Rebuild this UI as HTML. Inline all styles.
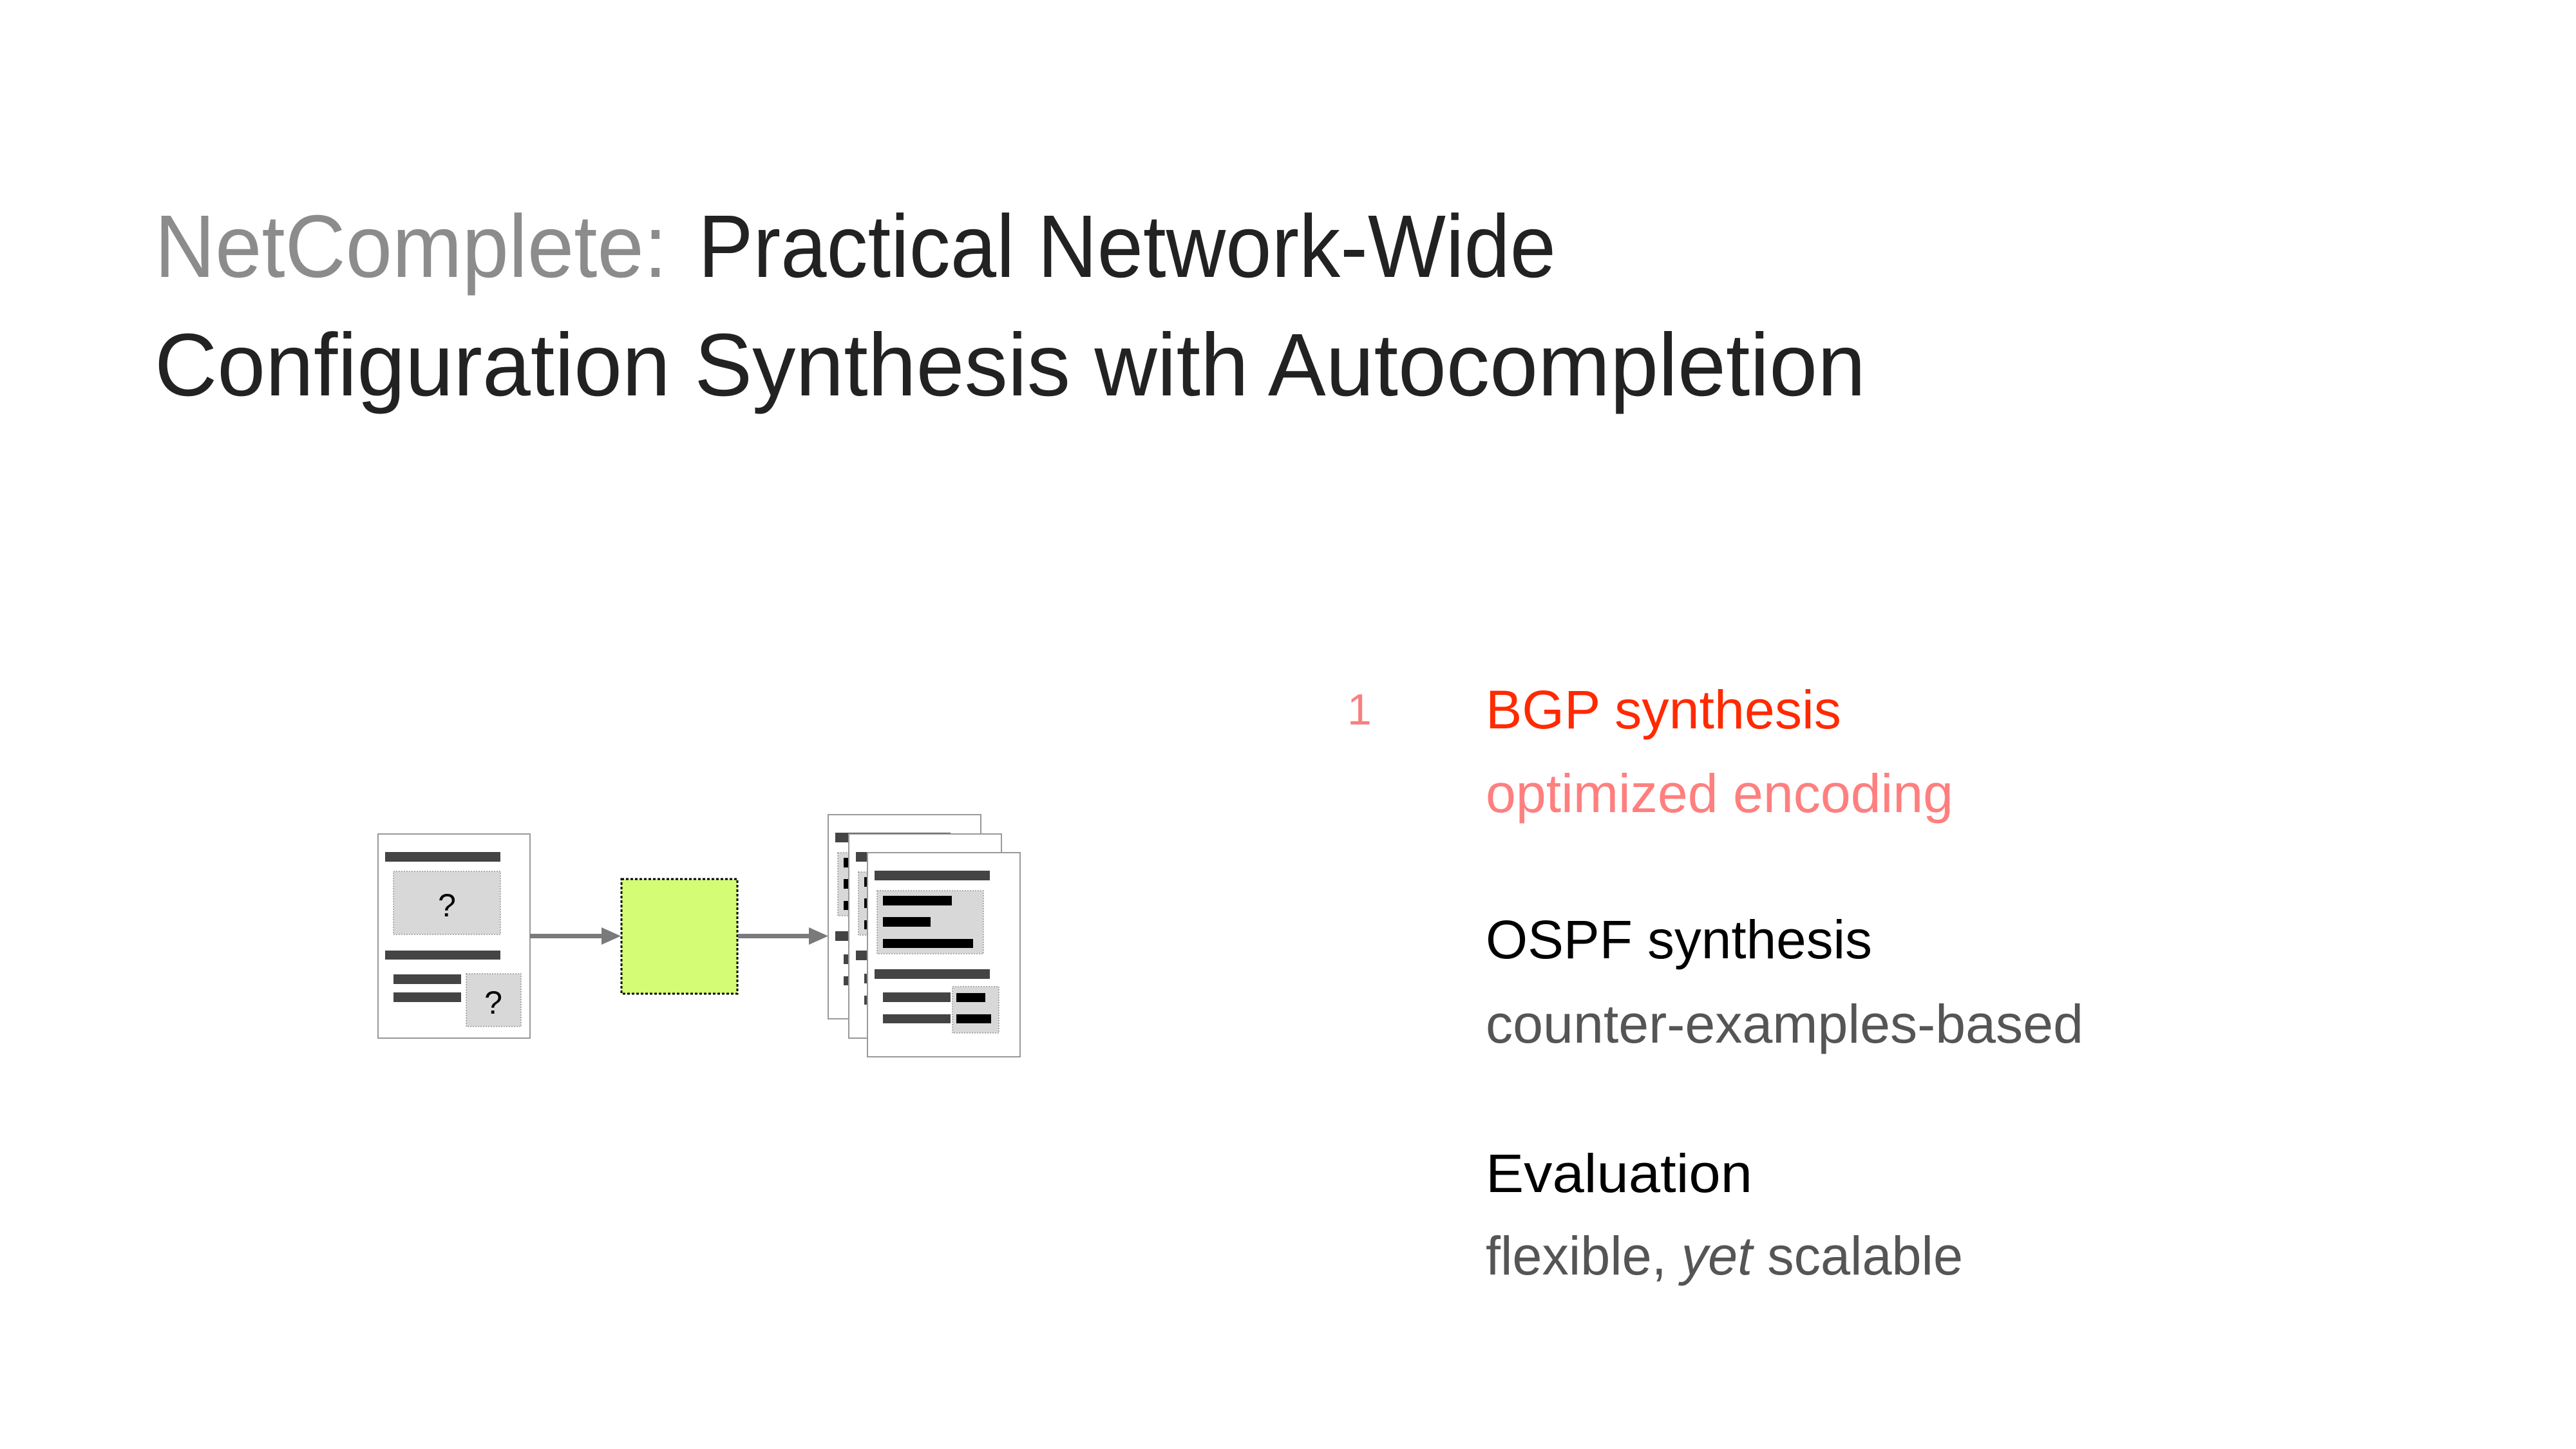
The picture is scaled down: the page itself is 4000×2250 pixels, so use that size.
<!DOCTYPE html>
<html><head><meta charset="utf-8"><style>
html,body{margin:0;padding:0;background:#fff;}
svg{display:block;}
text{font-family:"Liberation Sans","DejaVu Sans",sans-serif;}
</style></head><body>
<svg width="4000" height="2250" viewBox="0 0 4000 2250" xmlns="http://www.w3.org/2000/svg">
<rect width="4000" height="2250" fill="#fff"/>
<!-- Title -->
<text x="240" y="430" font-size="138" fill="#8c8c8c" textLength="796" lengthAdjust="spacingAndGlyphs">NetComplete:</text>
<text x="1084" y="430" font-size="138" fill="#222" textLength="1332" lengthAdjust="spacingAndGlyphs">Practical Network-Wide</text>
<text x="240" y="614" font-size="138" fill="#222" textLength="2657" lengthAdjust="spacingAndGlyphs">Configuration Synthesis with Autocompletion</text>

<!-- Right list -->
<text x="2092" y="1125" font-size="68" fill="#f98080">1</text>
<text x="2307" y="1131" font-size="84" fill="#ff2a00" textLength="552" lengthAdjust="spacingAndGlyphs">BGP synthesis</text>
<text x="2307" y="1261" font-size="84" fill="#ff7f7f" textLength="726" lengthAdjust="spacingAndGlyphs">optimized encoding</text>
<text x="2307" y="1488" font-size="84" fill="#000" textLength="600" lengthAdjust="spacingAndGlyphs">OSPF synthesis</text>
<text x="2307" y="1619" font-size="84" fill="#555" textLength="928" lengthAdjust="spacingAndGlyphs">counter-examples-based</text>
<text x="2307" y="1851" font-size="84" fill="#000" textLength="414" lengthAdjust="spacingAndGlyphs">Evaluation</text>
<text x="2307" y="1979" font-size="84" fill="#555" textLength="741" lengthAdjust="spacingAndGlyphs">flexible, <tspan font-style="italic">yet</tspan> scalable</text>

<!-- Left doc -->
<rect x="587" y="1295" width="236" height="317" fill="#fff" stroke="#999" stroke-width="2"/>
<rect x="598" y="1323" width="179" height="15" fill="#444"/>
<rect x="611" y="1353" width="166" height="98" fill="#d8d8d8" stroke="#999" stroke-width="1.5" stroke-dasharray="2,2"/>
<text x="694" y="1423" font-size="50" fill="#000" text-anchor="middle">?</text>
<rect x="598" y="1476" width="179" height="14" fill="#444"/>
<rect x="611" y="1513" width="105" height="15" fill="#444"/>
<rect x="611" y="1541" width="105" height="15" fill="#444"/>
<rect x="724" y="1512" width="85" height="82" fill="#d8d8d8" stroke="#999" stroke-width="1.5" stroke-dasharray="2,2"/>
<text x="766" y="1574" font-size="50" fill="#000" text-anchor="middle">?</text>

<!-- Arrow 1 -->
<rect x="823" y="1450" width="116" height="7" fill="#7a7a7a"/>
<polygon points="934,1440 964,1453.5 934,1467" fill="#7a7a7a"/>
<!-- Green box -->
<rect x="965" y="1365" width="180" height="178" fill="#d4fc74" stroke="#000" stroke-width="3" stroke-dasharray="4,3"/>
<!-- Arrow 2 -->
<rect x="1146" y="1450" width="113" height="7" fill="#7a7a7a"/>
<polygon points="1256,1440 1286,1453.5 1256,1467" fill="#7a7a7a"/>

<!-- Stacked docs -->
<defs>
<g id="doc">
<rect x="0" y="0" width="237" height="317" fill="#fff" stroke="#999" stroke-width="2"/>
<rect x="11" y="28" width="179" height="15" fill="#444"/>
<rect x="15" y="59" width="165" height="98" fill="#d8d8d8" stroke="#999" stroke-width="1.5" stroke-dasharray="2,2"/>
<rect x="24" y="67" width="107" height="15" fill="#000"/>
<rect x="24" y="100" width="74" height="15" fill="#000"/>
<rect x="24" y="134" width="140" height="14" fill="#000"/>
<rect x="11" y="181" width="179" height="15" fill="#444"/>
<rect x="24" y="217" width="105" height="15" fill="#444"/>
<rect x="24" y="251" width="105" height="14" fill="#444"/>
<rect x="132" y="208" width="72" height="72" fill="#d8d8d8" stroke="#999" stroke-width="1.5" stroke-dasharray="2,2"/>
<rect x="138" y="218" width="45" height="14" fill="#000"/>
<rect x="138" y="251" width="54" height="14" fill="#000"/>
</g>
</defs>
<use href="#doc" x="1286" y="1265"/>
<use href="#doc" x="1318" y="1295"/>
<use href="#doc" x="1347" y="1324"/>
</svg>
</body></html>
